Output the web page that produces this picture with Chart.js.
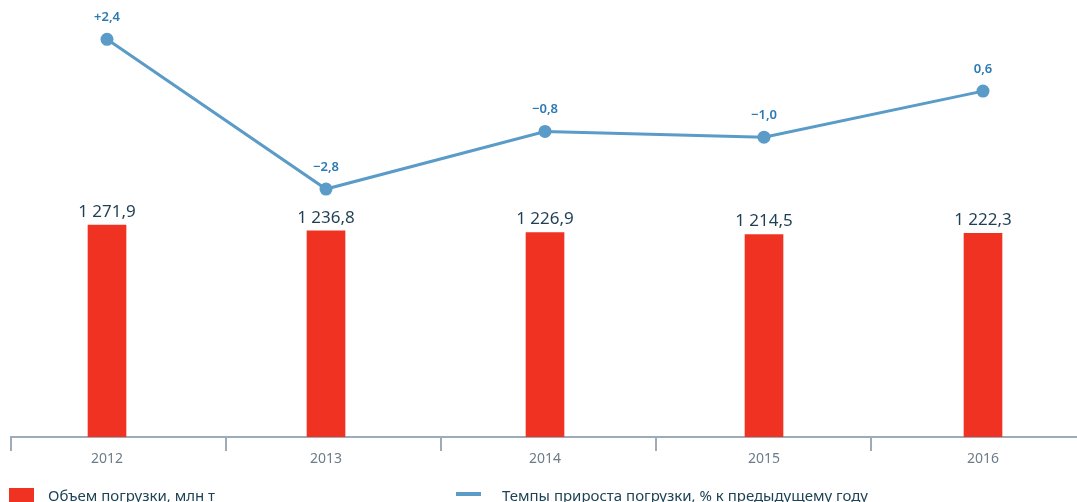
<!DOCTYPE html>
<html>
<head>
<meta charset="utf-8">
<script src="https://cdn.jsdelivr.net/npm/chart.js@4"></script>
<style>
  html, body { margin: 0; padding: 0; background: #fff; overflow: hidden; }
  #wrap { position: relative; width: 1077px; height: 502px; }
  .legend { position: absolute; font-family: "Noto Sans", sans-serif; font-size: 15px; color: #1e4356; white-space: nowrap; }
  .legend .sw { position: absolute; }
</style>
</head>
<body>
<div id="wrap">
  <canvas id="chart" width="1077" height="502"></canvas>
  <div class="legend" style="left:9px; top:485px;">
    <span class="sw" style="left:0; top:3px; width:25px; height:14px; background:#f03223;"></span>
    <span style="position:absolute; left:39px; top:0;">Объем погрузки, млн т</span>
  </div>
  <div class="legend" style="left:456px; top:485px;">
    <span class="sw" style="left:0; top:7px; width:25px; height:4px; background:#5a9bc8;"></span>
    <span style="position:absolute; left:46px; top:0;">Темпы прироста погрузки, % к предыдущему году</span>
  </div>
</div>
<script>
// chart data
const years = ["2012", "2013", "2014", "2015", "2016"];
const volume = [1271.9, 1236.8, 1226.9, 1214.5, 1222.3]; // млн т
const growth = [2.4, -2.8, -0.8, -1.0, 0.6]; // % к предыдущему году

const RED = "#f03223";
const BLUE = "#5a9bc8";

function fmtVolume(v) {
  const parts = v.toFixed(1).split(".");
  const int = parts[0].replace(/\B(?=(\d{3})+(?!\d))/g, " ");
  return int + "," + parts[1];
}

function fmtGrowth(v, i) {
  const sign = v < 0 ? "\u2212" : (i === 0 ? "+" : "");
  return sign + Math.abs(v).toFixed(1).replace(".", ",");
}

// draws value labels above bars and points
const valueLabels = {
  id: "valueLabels",
  afterDatasetsDraw(chart) {
    const ctx = chart.ctx;
    ctx.save();
    ctx.textAlign = "center";
    ctx.textBaseline = "middle";
    chart.data.datasets.forEach((ds, di) => {
      const meta = chart.getDatasetMeta(di);
      meta.data.forEach((el, i) => {
        if (ds.type === "bar") {
          ctx.font = "17px 'Noto Sans', sans-serif";
          ctx.fillStyle = "#1f3f54";
          ctx.fillText(fmtVolume(volume[i]), el.x, el.y - 13);
        } else {
          ctx.font = "600 13px 'Noto Sans', sans-serif";
          ctx.fillStyle = "#2b7bb2";
          ctx.fillText(fmtGrowth(growth[i], i), el.x, el.y - 22);
        }
      });
    });
    ctx.restore();
  },
};

const ctx = document.getElementById("chart").getContext("2d");
new Chart(ctx, {
  data: {
    datasets: [
      {
        type: "line",
        label: "Темпы прироста погрузки, % к предыдущему году",
        data: growth.map((g, i) => ({ x: i, y: g })),
        xAxisID: "x",
        yAxisID: "y2",
        borderColor: BLUE,
        backgroundColor: BLUE,
        borderWidth: 3,
        pointRadius: 6.5,
        pointBackgroundColor: BLUE,
        pointBorderWidth: 0,
        tension: 0,
        order: 0,
      },
      {
        type: "bar",
        label: "Объем погрузки, млн т",
        data: volume.map((v, i) => ({ x: i, y: v })),
        xAxisID: "x",
        yAxisID: "y",
        backgroundColor: RED,
        barThickness: 38,
        order: 1,
      },
    ],
  },
  plugins: [valueLabels],
  options: {
    responsive: false,
    animation: false,
    layout: { autoPadding: false, padding: { left: 11, right: 0, top: 0, bottom: 0 } },
    plugins: {
      legend: { display: false },
      tooltip: { enabled: false },
    },
    scales: {
      x: {
        type: "linear",
        position: "bottom",
        weight: 1,
        offset: false,
        min: -0.4384,
        max: 4.4292,
        grid: { display: false, drawTicks: false },
        border: { display: false },
        afterBuildTicks: (scale) => {
          scale.ticks = years.map((_, i) => ({ value: i }));
        },
        afterFit: (scale) => {
          scale.height = 65;
        },
        ticks: {
          padding: 14,
          color: "#6d7c89",
          font: { family: "'Noto Sans', sans-serif", size: 14 },
          callback: (v) => years[v] ?? "",
          maxRotation: 0,
        },
      },
      x2: {
        type: "linear",
        position: "bottom",
        weight: 0,
        offset: false,
        min: 0,
        max: 4.958,
        grid: {
          drawOnChartArea: false,
          drawTicks: true,
          tickLength: 14,
          color: "#9eabb8",
          lineWidth: 2,
        },
        border: { display: true, color: "#9eabb8", width: 2 },
        afterBuildTicks: (scale) => {
          scale.ticks = years.map((_, i) => ({ value: i }));
        },
        afterFit: (scale) => {
          scale.height = 0;
        },
        ticks: { display: false },
      },
      y: {
        display: false,
        min: 0,
        max: 2622,
      },
      y2: {
        display: false,
        min: -11.41,
        max: 3.764,
      },
    },
  },
});
</script>
</body>
</html>
